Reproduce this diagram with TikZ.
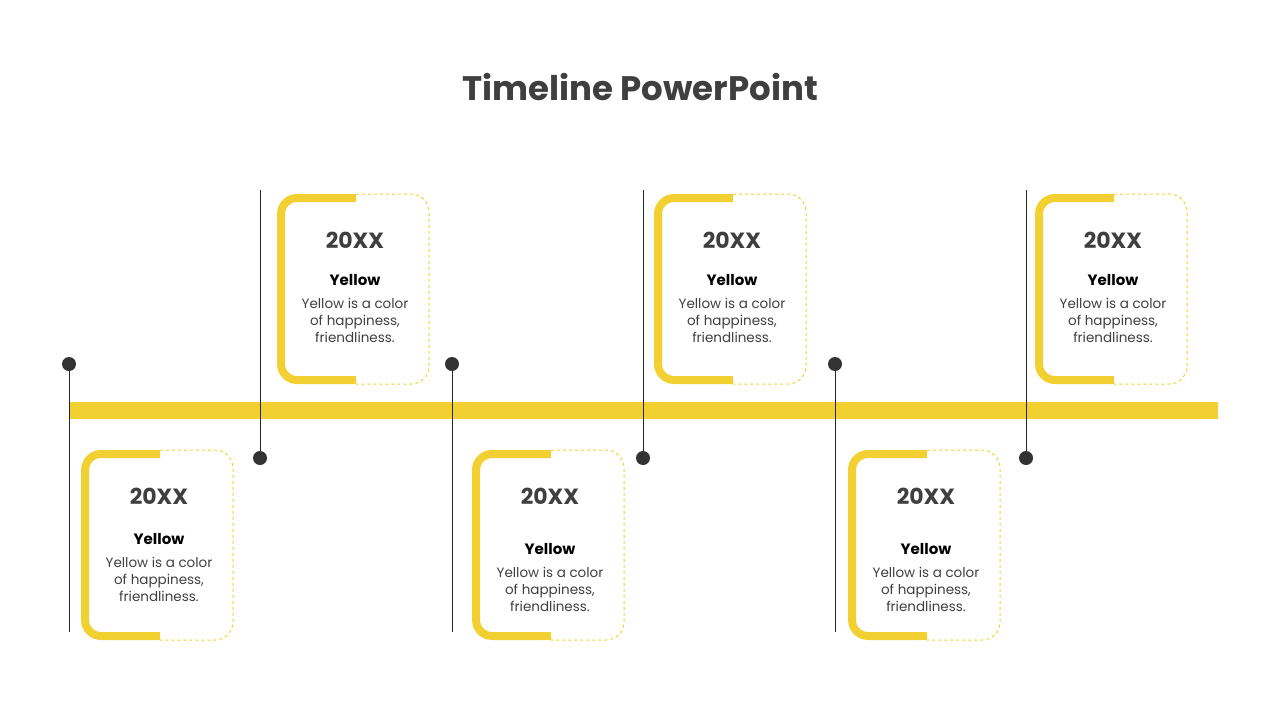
\documentclass[tikz,border=0pt]{standalone}
\usepackage{fontspec}
\setmainfont{Poppins}
\usetikzlibrary{positioning}
\definecolor{tlyellow}{HTML}{F2D031}
\definecolor{ink}{HTML}{3F3F3F}
% one card: name, center x, top y, y of the title word
\newcommand{\tlcard}[4]{%
  \draw[draw=tlyellow, line width=8pt, rounded corners=16pt]
    (#2,#3+4) -- (#2-75,#3+4) -- (#2-75,#3+186) -- (#2,#3+186);
  \draw[draw=tlyellow, line width=1pt, dashed, rounded corners=18pt]
    (#2,#3) -- (#2+73,#3) -- (#2+73,#3+190) -- (#2,#3+190);
  \node[year] (#1y) at (#2-1,#3+46) {20XX};
  \node[word] (#1w) at (#2-1,#4) {Yellow};
  \node[body, below=9pt of #1w] (#1b) {Yellow is a color\\of happiness,\\friendliness.};
}
\begin{document}
\begin{tikzpicture}[x=1pt, y=-1pt,
  year/.style={font=\fontsize{22}{26}\selectfont\bfseries, text=ink},
  word/.style={font=\fontsize{15}{18}\selectfont\bfseries, text=black},
  body/.style={font=\fontsize{13.5}{17}\selectfont, text=ink, align=center, inner sep=0pt},
  pole/.style={line width=1pt, draw=black!85},
  dot/.style={circle, fill=black!80, inner sep=0pt, minimum size=14pt}
]
\useasboundingbox (0,0) rectangle (1280,720);
\node[font=\fontsize{34}{40}\selectfont\bfseries, text=ink] (title) at (640,87) {Timeline PowerPoint};

% timeline bar
\fill[fill=tlyellow] (69,402) rectangle (1218,419);

% poles
\foreach \n/\x in {a/69, c/452, e/835} {
  \node[dot] (\n) at (\x,364) {};
  \coordinate (\n e) at (\x,632);
  \draw[pole] (\n) -- (\n e);
}
\foreach \n/\x in {b/260, d/643, f/1026} {
  \node[dot] (\n) at (\x,458) {};
  \coordinate (\n e) at (\x,190);
  \draw[pole] (\n) -- (\n e);
}

% cards
\tlcard{ca}{160}{450}{539}
\tlcard{cb}{356}{194}{280}
\tlcard{cc}{551}{450}{549}
\tlcard{cd}{733}{194}{280}
\tlcard{ce}{927}{450}{549}
\tlcard{cf}{1114}{194}{280}
\end{tikzpicture}
\end{document}
